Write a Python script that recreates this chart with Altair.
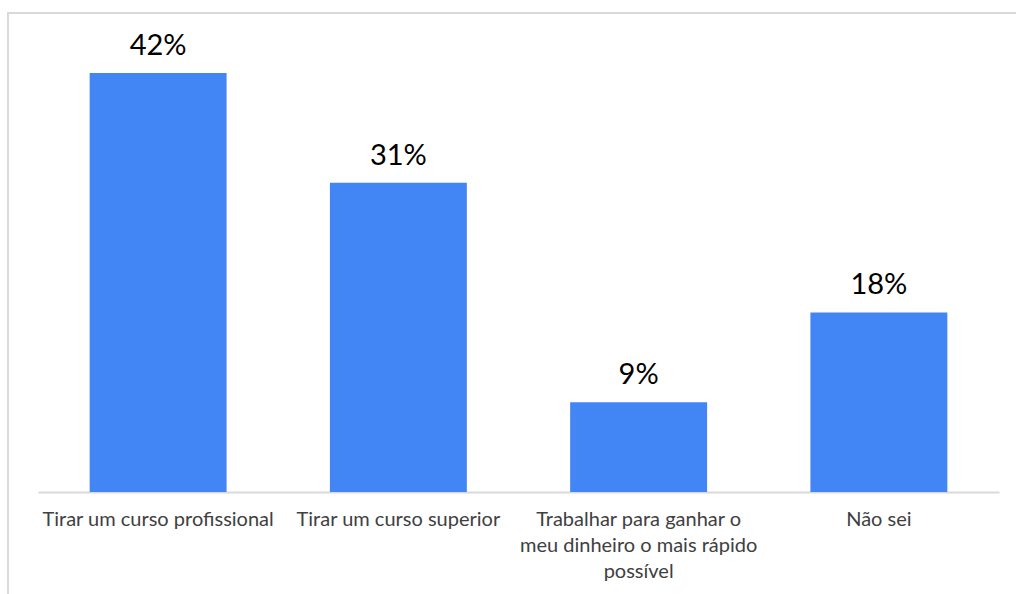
import altair as alt
import pandas as pd

# Data
category_lines = [
    ["Tirar um curso profissional"],
    ["Tirar um curso superior"],
    ["Trabalhar para ganhar o", "meu dinheiro o mais rápido", "possível"],
    ["Não sei"],
]
values = [42, 31, 9, 18]

categories = ["|".join(lines) for lines in category_lines]
df = pd.DataFrame({"categoria": categories, "valor": values})
df["rotulo"] = [f"{v}%" for v in values]

FONT = "Lato"
BLUE = "#4285F4"
BORDER = "#d9d9d9"

x = alt.X(
    "categoria:N",
    sort=categories,
    title=None,
    scale=alt.Scale(paddingInner=0.43, paddingOuter=0.215),
    axis=alt.Axis(
        labelAngle=0,
        labelExpr="split(datum.label, '|')",
        labelFont=FONT,
        labelFontSize=20,
        labelLineHeight=26,
        labelColor="#404040",
        labelPadding=17,
        labelLimit=400,
        ticks=False,
        domainColor=BORDER,
        domainWidth=2,
        labelBaseline="top",
    ),
)
y = alt.Y("valor:Q", title=None, scale=alt.Scale(domain=[0, 45], nice=False), axis=None)

bars = alt.Chart(df).mark_bar(color=BLUE).encode(x=x, y=y)
text = alt.Chart(df).mark_text(
    baseline="bottom", dy=-12, font=FONT, fontSize=29, color="#000000"
).encode(x=x, y=y, text="rotulo:N")

# Chart-area frame: only its top and left edges fall inside the picture
frame_top = alt.Chart(df).mark_rule(color=BORDER, strokeWidth=2).encode(
    x=alt.value(-31), x2=alt.value(978), y=alt.value(-30)
)
frame_left = alt.Chart(df).mark_rule(color=BORDER, strokeWidth=2).encode(
    x=alt.value(-30), y=alt.value(-31), y2=alt.value(551)
)

chart = (
    alt.layer(frame_top, frame_left, bars, text)
    .properties(
        width=961,
        height=449,
        autosize=alt.AutoSizeParams(type="none"),
        padding={"left": 38, "top": 43, "right": 17, "bottom": 102},
        background="white",
    )
    .configure_view(stroke=None)
)

chart.save("out.html", embed_options={"renderer": "svg", "actions": False})
